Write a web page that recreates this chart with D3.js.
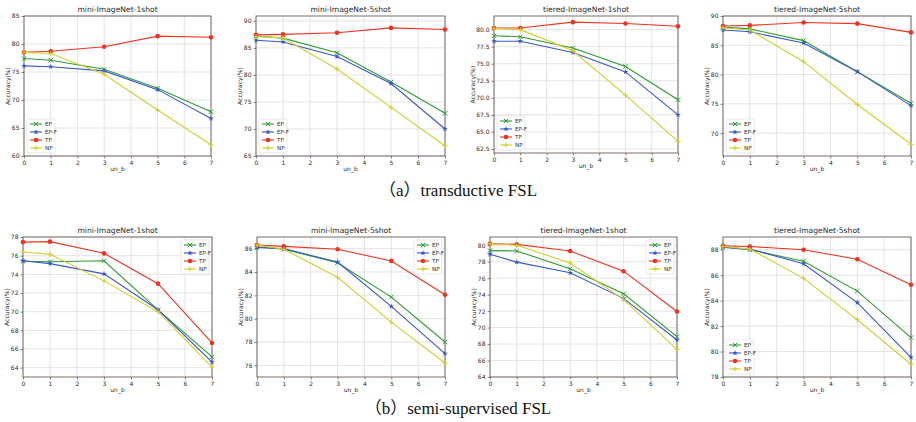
<!DOCTYPE html>
<html>
<head>
<meta charset="utf-8">
<script src="https://cdn.jsdelivr.net/npm/d3@7"></script>
<style>
  html, body { margin: 0; padding: 0; background: #fff; }
  svg { display: block; }
  .tick text { font-family: "DejaVu Sans", sans-serif; }
</style>
</head>
<body>
<svg id="fig" width="916" height="422"></svg>
<script>
// x positions (un_b values)
const unB = [0, 1, 3, 5, 7];
const seriesNames = ["EP", "EP-F", "TP", "NP"];
const seriesColors = ["#2e9a35", "#3a58c8", "#ee3322", "#d2cf2c"];
const seriesMarkers = ["x", "star", "circle", "plus"];

// transductive FSL, rows follow seriesNames: EP, EP-F, TP, NP
const transMini1 = [
  [77.4, 77.1, 75.5, 72.1, 67.9],
  [76.1, 75.95, 75.2, 71.85, 66.7],
  [78.5, 78.7, 79.5, 81.4, 81.2],
  [78.5, 78.3, 74.6, 68.2, 62.0]
];
const transMini5 = [
  [87.2, 86.8, 84.1, 78.7, 72.9],
  [86.4, 86.1, 83.4, 78.4, 70.0],
  [87.4, 87.5, 87.8, 88.7, 88.4],
  [87.1, 86.85, 81.1, 74.0, 66.9]
];
const transTiered1 = [
  [79.1, 78.95, 77.3, 74.6, 69.7],
  [78.3, 78.3, 76.65, 73.8, 67.5],
  [80.25, 80.25, 81.1, 80.9, 80.5],
  [80.15, 80.0, 76.9, 70.4, 63.6]
];
const transTiered5 = [
  [88.1, 87.8, 85.8, 80.5, 75.1],
  [87.6, 87.3, 85.4, 80.5, 74.7],
  [88.3, 88.4, 88.9, 88.7, 87.2],
  [88.0, 87.6, 82.2, 74.9, 68.1]
];

// semi-supervised FSL
const semiMini1 = [
  [75.4, 75.35, 75.45, 70.2, 65.15],
  [75.45, 75.15, 74.05, 70.2, 64.6],
  [77.45, 77.5, 76.25, 73.0, 66.65],
  [76.4, 76.15, 73.3, 70.0, 64.05]
];
const semiMini5 = [
  [86.15, 85.95, 84.8, 81.85, 78.0],
  [86.1, 86.0, 84.85, 81.05, 77.0],
  [86.3, 86.2, 85.95, 84.95, 82.05],
  [86.3, 85.95, 83.55, 79.7, 76.2]
];
const semiTiered1 = [
  [79.35, 79.3, 77.15, 74.1, 68.9],
  [78.9, 77.95, 76.65, 73.55, 68.5],
  [80.2, 80.1, 79.3, 76.85, 71.95],
  [80.2, 80.0, 77.85, 73.4, 67.35]
];
const semiTiered5 = [
  [88.2, 88.0, 87.1, 84.75, 81.1],
  [88.2, 88.05, 86.9, 83.85, 79.55],
  [88.3, 88.25, 88.0, 87.25, 85.25],
  [88.25, 88.05, 85.75, 82.5, 79.0]
];

// y tick labels per panel
const ticksTransMini1 = [60, 65, 70, 75, 80, 85];
const ticksTransMini5 = [65, 70, 75, 80, 85, 90];
const ticksTransTiered1 = [62.5, 65.0, 67.5, 70.0, 72.5, 75.0, 77.5, 80.0];
const ticksTransTiered5 = [70, 75, 80, 85, 90];
const ticksSemiMini1 = [64, 66, 68, 70, 72, 74, 76, 78];
const ticksSemiMini5 = [76, 78, 80, 82, 84, 86];
const ticksSemiTiered1 = [64, 66, 68, 70, 72, 74, 76, 78, 80];
const ticksSemiTiered5 = [78, 80, 82, 84, 86, 88];
const xTicks = [0, 1, 2, 3, 4, 5, 6, 7];

const captions = ["（a）transductive FSL", "（b）semi-supervised FSL"];

// panel layout
const panels = [
  { title: "mini-ImageNet-1shot", data: transMini1, ticks: ticksTransMini1, fmt: d3.format("d"),
    y: [60, 85], box: [24, 211, 16, 156], legend: "ll" },
  { title: "mini-ImageNet-5shot", data: transMini5, ticks: ticksTransMini5, fmt: d3.format("d"),
    y: [65, 90.9], box: [256, 445, 16, 156], legend: "ll" },
  { title: "tiered-ImageNet-1shot", data: transTiered1, ticks: ticksTransTiered1, fmt: d3.format(".1f"),
    y: [61.9, 82.0], box: [494, 678, 16, 153], legend: "ll" },
  { title: "tiered-ImageNet-5shot", data: transTiered5, ticks: ticksTransTiered5, fmt: d3.format("d"),
    y: [66.1, 90], box: [723, 911, 16, 156], legend: "ll" },
  { title: "mini-ImageNet-1shot", data: semiMini1, ticks: ticksSemiMini1, fmt: d3.format("d"),
    y: [63, 78], box: [23, 212, 237, 377], legend: "ur" },
  { title: "mini-ImageNet-5shot", data: semiMini5, ticks: ticksSemiMini5, fmt: d3.format("d"),
    y: [75, 87], box: [257, 445, 237, 377], legend: "ur" },
  { title: "tiered-ImageNet-1shot", data: semiTiered1, ticks: ticksSemiTiered1, fmt: d3.format("d"),
    y: [64, 81], box: [490, 677, 237, 377], legend: "ur" },
  { title: "tiered-ImageNet-5shot", data: semiTiered5, ticks: ticksSemiTiered5, fmt: d3.format("d"),
    y: [78, 89], box: [723, 911, 237, 377], legend: "ll" }
];

const svg = d3.select("#fig");
const frameColor = "#5b4a44";
const gridColor = "#dcdcdc";
const textColor = "#2a2a2a";

function drawMarker(g, kind, color, x, y) {
  if (kind === "circle") {
    g.append("circle").attr("cx", x).attr("cy", y).attr("r", 2.3).attr("fill", color);
  } else if (kind === "x") {
    const s = 2.2;
    g.append("path").attr("d", `M${x - s},${y - s}L${x + s},${y + s}M${x - s},${y + s}L${x + s},${y - s}`)
      .attr("stroke", color).attr("stroke-width", 1).attr("fill", "none");
  } else if (kind === "plus") {
    const s = 2.6;
    g.append("path").attr("d", `M${x - s},${y}L${x + s},${y}M${x},${y - s}L${x},${y + s}`)
      .attr("stroke", color).attr("stroke-width", 1).attr("fill", "none");
  } else if (kind === "star") {
    g.append("path").attr("d", d3.symbol(d3.symbolStar, 10)())
      .attr("transform", `translate(${x},${y})`).attr("fill", color);
  }
}

panels.forEach(p => {
  const [x0, x1, y0, y1] = p.box;
  const x = d3.scaleLinear().domain([0, 7]).range([x0, x1]);
  const y = d3.scaleLinear().domain(p.y).range([y1, y0]);
  const g = svg.append("g");
  const decimalTicks = p.ticks.some(t => t % 1 !== 0);

  // grid
  g.append("g").selectAll("line").data(xTicks).join("line")
    .attr("x1", d => x(d)).attr("x2", d => x(d)).attr("y1", y0).attr("y2", y1)
    .attr("stroke", gridColor).attr("stroke-width", 0.8);
  g.append("g").selectAll("line").data(p.ticks).join("line")
    .attr("x1", x0).attr("x2", x1).attr("y1", d => y(d)).attr("y2", d => y(d))
    .attr("stroke", gridColor).attr("stroke-width", 0.8);

  // axes
  const xa = g.append("g").attr("transform", `translate(0,${y1})`)
    .call(d3.axisBottom(x).tickValues(xTicks).tickFormat(d3.format("d")).tickSize(2.5).tickPadding(2));
  const ya = g.append("g").attr("transform", `translate(${x0},0)`)
    .call(d3.axisLeft(y).tickValues(p.ticks).tickFormat(p.fmt).tickSize(2.5).tickPadding(2));
  [xa, ya].forEach(a => {
    a.select(".domain").remove();
    a.selectAll(".tick line").attr("stroke", frameColor).attr("stroke-width", 0.7);
    a.selectAll(".tick text").attr("font-size", 6).attr("fill", textColor);
  });

  // frame
  g.append("rect").attr("x", x0).attr("y", y0).attr("width", x1 - x0).attr("height", y1 - y0)
    .attr("fill", "none").attr("stroke", frameColor).attr("stroke-width", 0.8);

  // lines and markers
  const line = d3.line().x((d, i) => x(unB[i])).y(d => y(d));
  p.data.forEach((vals, si) => {
    g.append("path").datum(vals).attr("d", line)
      .attr("fill", "none").attr("stroke", seriesColors[si]).attr("stroke-width", 1.1);
    vals.forEach((v, i) => drawMarker(g, seriesMarkers[si], seriesColors[si], x(unB[i]), y(v)));
  });

  // labels
  g.append("text").attr("x", (x0 + x1) / 2).attr("y", y0 - 4.5).attr("text-anchor", "middle")
    .attr("font-family", "DejaVu Sans, sans-serif").attr("font-size", 7.6).attr("fill", textColor)
    .text(p.title);
  g.append("text").attr("x", (x0 + x1) / 2).attr("y", y1 + 15).attr("text-anchor", "middle")
    .attr("font-family", "DejaVu Sans, sans-serif").attr("font-size", 6).attr("fill", textColor)
    .text("un_b");
  g.append("text").attr("transform", `translate(${x0 - (decimalTicks ? 19 : 14)},${(y0 + y1) / 2}) rotate(-90)`)
    .attr("text-anchor", "middle").attr("font-family", "DejaVu Sans, sans-serif")
    .attr("font-size", 6).attr("fill", textColor).text("Accuracy(%)");

  // legend
  const lw = 28, lh = 34;
  const lx = p.legend === "ll" ? x0 + 3 : x1 - lw - 3;
  const ly = p.legend === "ll" ? y1 - lh - 3 : y0 + 3;
  const lg = g.append("g").attr("transform", `translate(${lx},${ly})`);
  lg.append("rect").attr("width", lw).attr("height", lh).attr("rx", 1.5)
    .attr("fill", "#fff").attr("fill-opacity", 0.85).attr("stroke", "#d8d8d8").attr("stroke-width", 0.6);
  seriesNames.forEach((name, si) => {
    const cy = 5 + si * 8;
    lg.append("line").attr("x1", 3).attr("x2", 15).attr("y1", cy).attr("y2", cy)
      .attr("stroke", seriesColors[si]).attr("stroke-width", 1.1);
    drawMarker(lg, seriesMarkers[si], seriesColors[si], 9, cy);
    lg.append("text").attr("x", 18).attr("y", cy + 2).attr("font-family", "DejaVu Sans, sans-serif")
      .attr("font-size", 5.6).attr("fill", textColor).text(name);
  });
});

// captions
const capY = [196, 414];
captions.forEach((c, i) => {
  svg.append("text").attr("x", 458).attr("y", capY[i]).attr("text-anchor", "middle")
    .attr("font-family", "'Liberation Serif', 'Noto Sans CJK SC', serif").attr("font-size", 17)
    .attr("fill", "#111").text(c);
});
</script>
</body>
</html>
